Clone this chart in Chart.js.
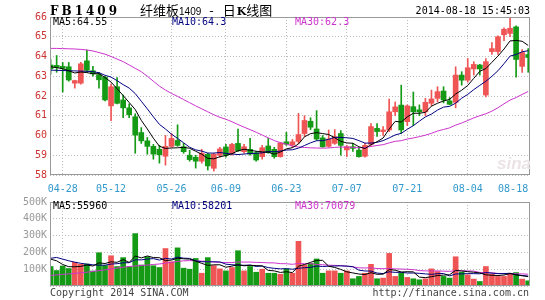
<!DOCTYPE html>
<html>
<head>
<meta charset="utf-8">
<script src="https://cdn.jsdelivr.net/npm/chart.js@4.4.1/dist/chart.umd.min.js"></script>
<style>
body { margin: 0; background: #fff; }
#wrap { position: relative; width: 545px; height: 300px; overflow: hidden; font-family: "DejaVu Sans Mono", monospace; font-size: 10px; }
canvas { position: absolute; left: 0; top: 0; }
.t { position: absolute; white-space: nowrap; line-height: 12px; }
</style>
</head>
<body>
<div id="wrap">
  <canvas id="priceChart" width="545" height="300"></canvas>
  <canvas id="volChart" width="545" height="300"></canvas>

  <div class="t" style="left:50px;top:5px;font:bold 12px 'DejaVu Serif';letter-spacing:3px;line-height:12px;">FB1409</div>
  <div class="t" style="left:140px;top:3px;line-height:13px;font-family:'Noto Sans CJK SC';font-size:13px;">纤维板<span style="font:10px 'Liberation Sans';">1409</span><span style="margin:0 9px 0 8px;">-</span>日<b style="font-family:'DejaVu Serif';font-size:11px;margin-left:1px;">K</b>线图</div>
  <div class="t" style="right:15px;top:5px;">2014-08-18 15:45:03</div>

  <div class="t" style="left:53px;top:16px;color:#000;">MA5:64.55</div>
  <div class="t" style="left:172px;top:16px;color:#000080;">MA10:64.3</div>
  <div class="t" style="left:295px;top:16px;color:#cc33cc;">MA30:62.3</div>

  <div class="t" style="left:497px;top:154px;font:italic bold 17px 'Liberation Sans';color:#ebe3e6;">sina</div>

  <div class="t" style="left:53px;top:200px;color:#000;">MA5:55960</div>
  <div class="t" style="left:172px;top:200px;color:#000080;">MA10:58201</div>
  <div class="t" style="left:295px;top:200px;color:#cc33cc;">MA30:70079</div>

  <div class="t" style="left:50px;top:287px;color:#444;">Copyright 2014 SINA.COM</div>
  <div class="t" style="right:16px;top:287px;color:#444;">http://finance.sina.com.cn</div>
</div>

<script>
const dates = ["04-24","04-25","04-28","04-29","04-30","05-05","05-06","05-07","05-08","05-09",
  "05-12","05-13","05-14","05-15","05-16","05-19","05-20","05-21","05-22","05-23",
  "05-26","05-27","05-28","05-29","05-30","06-03","06-04","06-05","06-06","06-09",
  "06-10","06-11","06-12","06-13","06-16","06-17","06-18","06-19","06-20","06-23",
  "06-24","06-25","06-26","06-27","06-30","07-01","07-02","07-03","07-04","07-07",
  "07-08","07-09","07-10","07-11","07-14","07-15","07-16","07-17","07-18","07-21",
  "07-22","07-23","07-24","07-25","07-28","07-29","07-30","07-31","08-01","08-04",
  "08-05","08-06","08-07","08-08","08-11","08-12","08-13","08-14","08-15","08-18"];

const opens = [63.57,63.55,63.5,63.48,62.65,62.65,63.78,63.28,63.08,62.95,
  61.5,62.47,61.8,61.4,60.95,60.15,59.73,59.45,59.3,58.95,
  59.45,59.75,59.43,59.0,58.9,58.7,59.05,58.34,59.0,59.42,
  59.1,59.6,59.18,59.3,59.13,58.93,59.47,59.3,58.93,59.68,
  59.52,59.7,60.1,60.72,60.33,59.88,59.45,59.6,60.1,59.27,
  59.43,59.26,58.95,59.55,60.36,60.2,60.28,61.2,61.54,60.7,
  61.46,61.3,61.2,61.63,61.88,62.25,61.75,61.68,63.06,62.8,
  63.37,63.57,62.05,64.25,64.25,65.1,65.17,65.5,63.5,64.1];
const highs = [63.85,64.05,63.7,63.7,62.8,63.7,64.33,63.5,63.2,63.0,
  62.6,62.93,62.05,61.6,61.1,60.4,59.9,59.55,59.5,60.0,
  60.1,60.54,59.6,59.25,59.0,59.3,59.1,59.1,59.4,59.55,
  59.6,60.33,59.55,59.86,59.2,59.5,59.85,59.4,59.65,60.16,
  59.8,61.12,61.0,60.9,61.26,60.0,60.28,60.3,60.25,59.5,
  59.6,59.4,59.6,60.6,60.6,60.45,61.85,61.7,62.55,61.55,
  62.2,61.55,61.88,62.3,62.47,62.47,61.92,63.48,63.23,63.9,
  63.74,63.6,63.9,64.7,65.05,65.45,65.95,65.55,64.35,64.4];
const lows = [63.1,63.2,62.2,62.75,62.4,62.6,63.2,63.0,62.4,61.75,
  60.75,61.6,60.9,60.9,59.1,59.6,59.05,58.8,58.6,58.5,
  59.4,59.45,59.1,58.7,58.35,58.6,58.25,58.2,58.9,58.9,
  59.0,59.2,59.1,59.0,58.7,58.8,59.1,58.85,58.9,59.5,
  59.4,59.6,59.95,60.3,59.75,59.4,59.4,59.55,59.0,58.93,
  59.2,58.9,58.9,59.5,59.95,60.0,60.2,61.0,60.1,60.5,
  60.5,61.0,61.0,61.5,61.7,61.65,61.55,61.4,62.55,62.7,
  63.06,63.06,61.95,64.1,64.1,64.8,65.0,62.95,63.2,63.2];
const closes = [63.38,63.45,63.4,62.81,62.78,63.63,63.3,63.12,62.82,61.8,
  62.47,61.63,61.4,61.05,60.02,59.73,59.45,59.06,59.03,59.45,
  59.85,59.5,59.18,58.78,58.7,59.1,58.46,59.05,59.32,59.0,
  59.55,59.22,59.43,59.06,58.76,59.38,59.13,58.93,59.62,59.56,
  59.68,60.05,60.76,60.42,59.82,59.43,59.82,59.94,59.5,59.43,
  59.35,58.93,59.5,60.45,60.2,60.28,61.2,61.45,60.28,61.5,
  61.2,61.2,61.68,61.85,62.22,61.8,61.58,63.06,62.8,63.43,
  63.6,63.37,63.74,64.4,65.0,65.38,65.43,63.85,64.2,63.95];
const volumes = [116000,92000,119000,104000,141000,129000,131000,89000,198000,122000,
  180000,116000,169000,114000,312000,125000,174000,121000,110000,223000,
  144000,227000,106000,100000,164000,76000,169000,121000,102000,90000,
  110000,210000,90000,116000,82000,100000,76000,76000,70000,102000,
  76000,266000,125000,135000,161000,76000,90000,90000,76000,90000,
  43000,57000,76000,129000,43000,47000,194000,57000,76000,51000,
  43000,37000,43000,102000,86000,57000,47000,174000,82000,66000,
  41000,27000,116000,70000,57000,57000,70000,80000,41000,31000];

// moving-average values at the left edge (earlier data not shown)
const ma5Head = [63.48,63.44,63.38,63.28];
const ma10Head = [63.31,63.3,63.29,63.28,63.27,63.26,63.25,63.23,63.18];
const ma30Head = [64.41,64.41,64.4,64.39,64.38,64.36,64.33,64.28,64.2,64.12,
  64.0,63.87,63.74,63.57,63.4,63.23,63.0,62.75,62.5,62.3,
  62.13,61.98,61.82,61.66,61.5,61.35,61.2,61.05,60.92];
const volMa5Head = [160000,150000,128000,115000];
const volMa10Head = [165000,170000,160000,150000,142000,135000,130000,126000,124000];
const volMa30Head = [63000,66000,69000,72000,75000,79000,82000,87000,91000,96000,
  101000,107000,112000,116000,119000,122000,125000,128000,131000,136000,
  141000,146000,150000,151000,150000,148000,146000,143000,141000];

const tickDates = ["04-28","05-12","05-26","06-09","06-23","07-07","07-21","08-04","08-18"];
const priceTicks = [58,59,60,61,62,63,64,65,66];
const volTicks = [100000,200000,300000,400000,500000];
const volTickLabels = ["100K","200K","300K","400K","500K"];

const UP = "#f05555";
const DOWN = "#149a14";

function movingAvg(values, n, head) {
  return values.map((v, i) => {
    if (i < n - 1) return head[i];
    let s = 0;
    for (let k = i - n + 1; k <= i; k++) s += values[k];
    return s / n;
  });
}

const pts = arr => arr.map((v, i) => ({ x: i, y: v }));
const colors = closes.map((c, i) => c >= opens[i] ? UP : DOWN);
const tickIdx = [0].concat(tickDates.map(d => dates.indexOf(d)));
const lastIdx = dates.length - 1;

const boxBorder = {
  id: "boxBorder",
  afterDraw(chart) {
    const { ctx, chartArea: a } = chart;
    ctx.save();
    ctx.strokeStyle = "#999";
    ctx.lineWidth = 1;
    ctx.strokeRect(Math.round(a.left) + 0.5, Math.round(a.top) + 0.5,
      Math.round(a.right - a.left) - 1, Math.round(a.bottom - a.top) - 1);
    ctx.restore();
  }
};

Chart.defaults.font.family = "DejaVu Sans Mono";
Chart.defaults.font.size = 10;

function xScale(showLabels) {
  return {
    type: "linear",
    offset: false,
    min: -0.1,
    max: lastIdx + 0.3,
    afterBuildTicks: s => { s.ticks = tickIdx.map(v => ({ value: v })); },
    afterFit: s => { s.height = showLabels ? 20 : 0; },
    grid: {
      offset: false,
      drawTicks: false,
      color: c => (c.tick && (c.tick.value === 0 || c.tick.value === lastIdx)) ? "rgba(0,0,0,0)" : "#bbb"
    },
    border: { display: false, dash: [1, 2] },
    ticks: {
      display: showLabels,
      autoSkip: false,
      maxRotation: 0,
      align: "inner",
      padding: 8,
      color: "#3399cc",
      callback: v => v === 0 ? "" : dates[v]
    }
  };
}

function lineSet(arr, color) {
  return { type: "line", data: pts(arr), borderColor: color, borderWidth: 1,
    pointRadius: 0, tension: 0, order: 0, clip: 0 };
}

new Chart(document.getElementById("priceChart"), {
  type: "bar",
  data: {
    datasets: [
      lineSet(movingAvg(closes, 5, ma5Head), "#000"),
      lineSet(movingAvg(closes, 10, ma10Head), "#000080"),
      lineSet(movingAvg(closes, 30, ma30Head), "#cc33cc"),
      { data: opens.map((o, i) => ({ x: i, y: [o, closes[i]] })), backgroundColor: colors,
        barThickness: 5, minBarLength: 1, grouped: false, order: 1, clip: 0 },
      { data: lows.map((l, i) => ({ x: i, y: [l, highs[i]] })), backgroundColor: colors,
        barThickness: 1, grouped: false, order: 2, clip: 0 }
    ]
  },
  options: {
    responsive: false,
    animation: false,
    devicePixelRatio: 1,
    layout: { padding: { left: 0, right: 15, top: 17, bottom: 105 } },
    plugins: { legend: { display: false }, tooltip: { enabled: false } },
    scales: {
      x: xScale(true),
      y: {
        min: priceTicks[0],
        max: priceTicks[priceTicks.length - 1],
        afterBuildTicks: s => { s.ticks = priceTicks.map(v => ({ value: v })); },
        afterFit: s => { s.width = 50; },
        grid: { color: "#bbb", drawTicks: false },
        border: { display: false, dash: [1, 2] },
        ticks: { padding: 3, color: "#cc3333", callback: v => String(v) }
      }
    }
  },
  plugins: [boxBorder]
});

new Chart(document.getElementById("volChart"), {
  type: "bar",
  data: {
    datasets: [
      lineSet(movingAvg(volumes, 5, volMa5Head), "#000"),
      lineSet(movingAvg(volumes, 10, volMa10Head), "#000080"),
      lineSet(movingAvg(volumes, 30, volMa30Head), "#cc33cc"),
      { data: volumes.map((v, i) => ({ x: i, y: v })), backgroundColor: colors,
        barThickness: 5, grouped: false, order: 1, clip: 0 }
    ]
  },
  options: {
    responsive: false,
    animation: false,
    devicePixelRatio: 1,
    layout: { padding: { left: 0, right: 15, top: 202, bottom: 14 } },
    plugins: { legend: { display: false }, tooltip: { enabled: false } },
    scales: {
      x: xScale(false),
      y: {
        min: 0,
        max: volTicks[volTicks.length - 1],
        afterBuildTicks: s => { s.ticks = [0].concat(volTicks).map(v => ({ value: v })); },
        afterFit: s => { s.width = 50; },
        grid: { color: "#bbb", drawTicks: false },
        border: { display: false, dash: [1, 2] },
        ticks: { padding: 3, color: "#999", callback: v => v === 0 ? "" : volTickLabels[volTicks.indexOf(v)] }
      }
    }
  },
  plugins: [boxBorder]
});
</script>
</body>
</html>
